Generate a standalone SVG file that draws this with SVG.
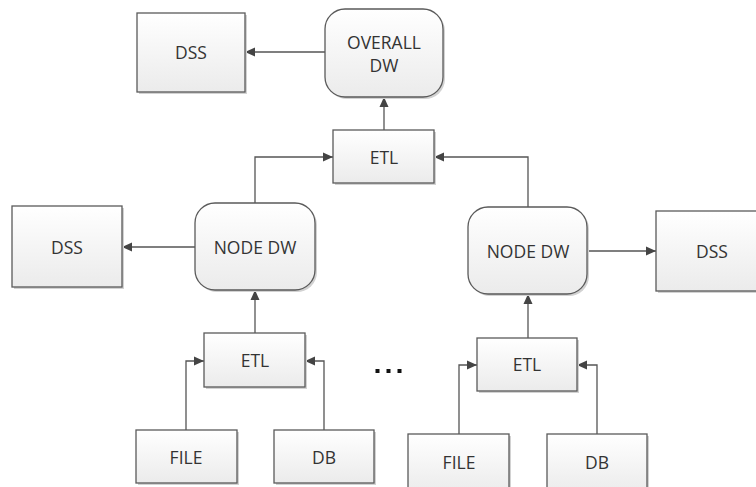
<svg xmlns="http://www.w3.org/2000/svg" width="756" height="487" viewBox="0 0 756 487">
  <style>
    .box { fill: url(#boxFill); stroke: #5a5a5a; stroke-width: 1.3; }
    .shadow { fill: #d2d2d2; }
    .lbl { font-family: "Open Sans", "Liberation Sans", sans-serif; font-size: 17.5px; fill: #333; text-anchor: middle; dominant-baseline: central; }
    .link { fill: none; stroke: #555; stroke-width: 1.3; marker-end: url(#arrow); }
  </style>
  <defs>
    <linearGradient id="boxFill" x1="0" y1="0" x2="0" y2="1">
      <stop offset="0" stop-color="#ffffff"/>
      <stop offset="1" stop-color="#ebebeb"/>
    </linearGradient>
    <marker id="arrow" viewBox="0 0 10 10" refX="10" refY="5" markerWidth="10" markerHeight="10" markerUnits="userSpaceOnUse" orient="auto">
      <path d="M0,0.5 L10,5 L0,9.5 Z" fill="#444"/>
    </marker>
  </defs>
  <rect width="756" height="487" fill="#ffffff"/>

  <!-- connectors -->
  <g id="connectors">
    <path class="link" d="M325,52 H245"/>
    <path class="link" d="M384,130 V97"/>
    <path class="link" d="M255,203 V157 H333"/>
    <path class="link" d="M528,207 V157 H434"/>
    <path class="link" d="M195,247 H122"/>
    <path class="link" d="M587,251 H656"/>
    <path class="link" d="M255,333 V290"/>
    <path class="link" d="M528,338 V294"/>
    <path class="link" d="M186,430 V361 H204"/>
    <path class="link" d="M324,430 V361 H305"/>
    <path class="link" d="M459,434 V365 H477"/>
    <path class="link" d="M597,434 V365 H577"/>
  </g>

  <g id="dss-top">
    <rect class="shadow" x="139" y="15" width="108" height="79"/>
    <rect class="box" x="137" y="13" width="108" height="79"/>
    <text class="lbl" x="191" y="52">DSS</text>
  </g>
  <g id="overall-dw">
    <rect class="shadow" x="327" y="11" width="118" height="88" rx="20"/>
    <rect class="box" x="325" y="9" width="118" height="88" rx="20"/>
    <text class="lbl" x="384" y="42">OVERALL</text>
    <text class="lbl" x="384" y="65">DW</text>
  </g>
  <g id="etl-top">
    <rect class="shadow" x="335" y="132" width="101" height="53"/>
    <rect class="box" x="333" y="130" width="101" height="53"/>
    <text class="lbl" x="384" y="157">ETL</text>
  </g>

  <g id="dss-left">
    <rect class="shadow" x="14" y="208" width="110" height="81"/>
    <rect class="box" x="12" y="206" width="110" height="81"/>
    <text class="lbl" x="67" y="247">DSS</text>
  </g>
  <g id="node-dw-left">
    <rect class="shadow" x="197" y="205" width="120" height="87" rx="20"/>
    <rect class="box" x="195" y="203" width="120" height="87" rx="20"/>
    <text class="lbl" x="255" y="247">NODE DW</text>
  </g>
  <g id="etl-left">
    <rect class="shadow" x="206" y="335" width="101" height="54"/>
    <rect class="box" x="204" y="333" width="101" height="54"/>
    <text class="lbl" x="255" y="360">ETL</text>
  </g>
  <g id="file-left">
    <rect class="shadow" x="138" y="432" width="101" height="53"/>
    <rect class="box" x="136" y="430" width="101" height="53"/>
    <text class="lbl" x="186" y="457">FILE</text>
  </g>
  <g id="db-left">
    <rect class="shadow" x="276" y="432" width="100" height="53"/>
    <rect class="box" x="274" y="430" width="100" height="53"/>
    <text class="lbl" x="324" y="457">DB</text>
  </g>

  <g id="node-dw-right">
    <rect class="shadow" x="470" y="209" width="119" height="87" rx="20"/>
    <rect class="box" x="468" y="207" width="119" height="87" rx="20"/>
    <text class="lbl" x="528" y="251">NODE DW</text>
  </g>
  <g id="dss-right">
    <rect class="shadow" x="658" y="213" width="110" height="80"/>
    <rect class="box" x="656" y="211" width="110" height="80"/>
    <text class="lbl" x="712" y="251">DSS</text>
  </g>
  <g id="etl-right">
    <rect class="shadow" x="479" y="340" width="100" height="53"/>
    <rect class="box" x="477" y="338" width="100" height="53"/>
    <text class="lbl" x="527" y="364">ETL</text>
  </g>
  <g id="file-right">
    <rect class="shadow" x="410" y="436" width="101" height="60"/>
    <rect class="box" x="408" y="434" width="101" height="60"/>
    <text class="lbl" x="459" y="462">FILE</text>
  </g>
  <g id="db-right">
    <rect class="shadow" x="549" y="436" width="100" height="60"/>
    <rect class="box" x="547" y="434" width="100" height="60"/>
    <text class="lbl" x="597" y="462">DB</text>
  </g>

  <g id="ellipsis" fill="#111">
    <rect x="375.5" y="369" width="4" height="4"/>
    <rect x="386.5" y="369" width="4" height="4"/>
    <rect x="397.5" y="369" width="4" height="4"/>
  </g>
</svg>
